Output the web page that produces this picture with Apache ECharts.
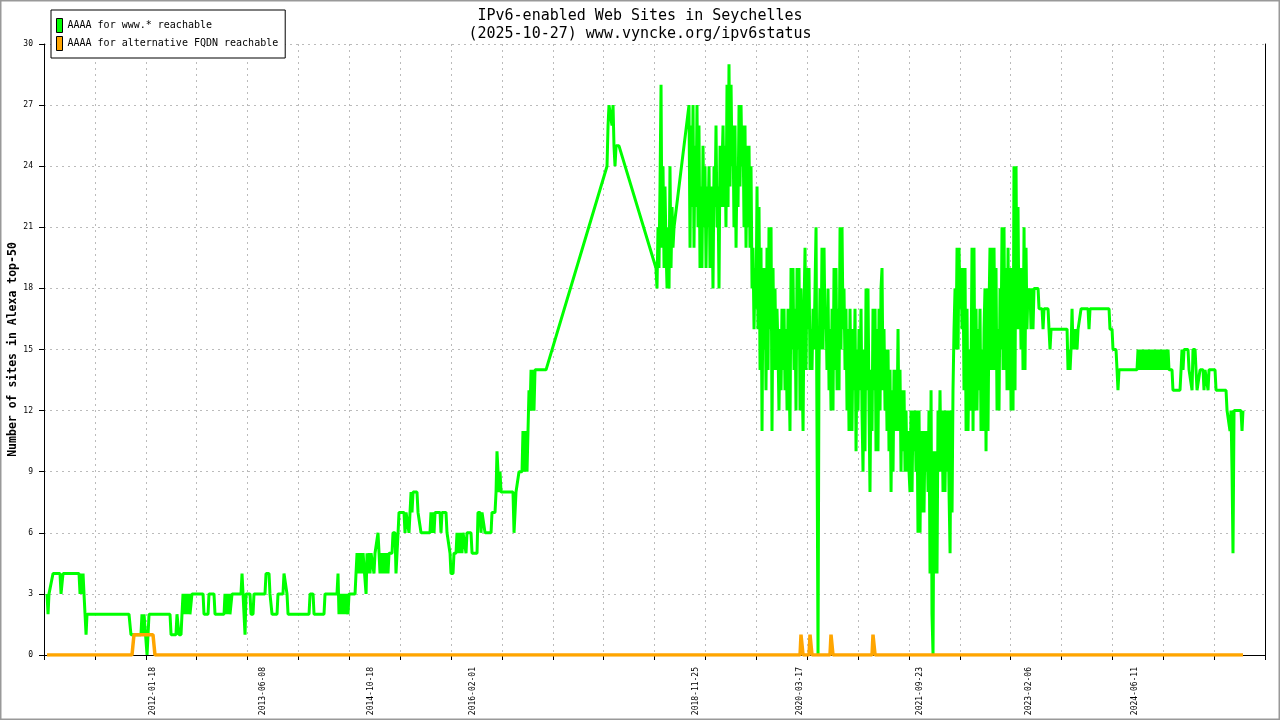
<!DOCTYPE html>
<html><head><meta charset="utf-8">
<script src="https://cdn.jsdelivr.net/npm/echarts@6/dist/echarts.min.js"></script>
<style>html,body{margin:0;padding:0;background:#fff}#c{width:1280px;height:720px}</style>
</head><body><div id="c"></div>
<script>
// ---- texts ----
const chartTitle = 'IPv6-enabled Web Sites in Seychelles';
const chartSubtitle = '(2025-10-27) www.vyncke.org/ipv6status';
const seriesNames = ['AAAA for www.* reachable', 'AAAA for alternative FQDN reachable'];
const yAxisName = 'Number of sites in Alexa top-50';
// ---- x axis: dates shown as tick labels, axis extent in decimal years ----
const xTickLabels = ['2012-01-18','2013-06-08','2014-10-18','2016-02-01','2018-11-25','2020-03-17','2021-09-23','2023-02-06','2024-06-11'];
const xRange = [2010.670, 2026.085];
const xMinorTickCount = 24;
const yRange = [0, 30];
const yStep = 3;

// ---- data: [decimal year, number of sites] ----
const www2010 = [[2010.708,3],[2010.721,2],[2010.733,3],[2010.758,3],[2010.784,4],[2010.872,4],[2010.885,3],[2010.897,3],[2010.910,4],[2011.112,4],[2011.125,3],[2011.138,4],[2011.150,3],[2011.163,4],[2011.175,3],[2011.188,2],[2011.201,1],[2011.213,2],[2011.743,2],[2011.768,1],[2011.894,1],[2011.907,2],[2011.920,1],[2011.933,2],[2011.958,2],[2011.971,0],[2011.983,0],[2011.996,2],[2012.261,2],[2012.274,1],[2012.336,1],[2012.349,2],[2012.362,2],[2012.374,1],[2012.400,1],[2012.412,2],[2012.425,3],[2012.438,2],[2012.450,3],[2012.463,2],[2012.475,3],[2012.488,2],[2012.501,3],[2012.513,2],[2012.538,3],[2012.678,3],[2012.690,2],[2012.741,2],[2012.753,3],[2012.816,3],[2012.829,2],[2012.943,2],[2012.955,3],[2012.968,2],[2012.981,3],[2012.993,2],[2013.006,3],[2013.018,2],[2013.044,3],[2013.157,3],[2013.170,4],[2013.195,4],[2013.208,1],[2013.220,3],[2013.271,3],[2013.283,2],[2013.309,2],[2013.321,3],[2013.460,3],[2013.473,4],[2013.511,4],[2013.523,3],[2013.549,2],[2013.612,2],[2013.624,3],[2013.687,3],[2013.700,4],[2013.725,4],[2013.738,3],[2013.751,2],[2014.016,2],[2014.029,3],[2014.067,3],[2014.079,2],[2014.205,2],[2014.218,3],[2014.369,3],[2014.382,4],[2014.394,2],[2014.407,3],[2014.420,2],[2014.432,3],[2014.445,2],[2014.458,3],[2014.470,2],[2014.483,3],[2014.508,2],[2014.521,3],[2014.597,3]];
const www2014 = [[2014.609,4],[2014.622,5],[2014.635,4],[2014.647,5],[2014.660,4],[2014.673,5],[2014.685,4],[2014.698,5],[2014.723,5],[2014.736,3],[2014.748,5],[2014.761,4],[2014.774,5],[2014.786,4],[2014.799,5],[2014.824,5],[2014.836,4],[2014.849,5],[2014.874,5],[2014.887,6],[2014.900,5],[2014.912,4],[2014.925,5],[2014.937,4],[2014.950,5],[2014.963,4],[2014.975,5],[2014.988,4],[2015.000,5],[2015.013,4],[2015.026,5],[2015.064,5],[2015.076,6],[2015.102,6],[2015.114,4],[2015.127,5],[2015.140,6],[2015.152,7],[2015.215,7],[2015.228,6],[2015.241,7],[2015.266,7],[2015.278,6],[2015.291,7],[2015.304,8],[2015.316,7],[2015.329,8],[2015.379,8],[2015.392,7],[2015.417,7],[2015.430,6],[2015.543,6],[2015.556,7],[2015.569,6],[2015.581,7],[2015.594,6],[2015.607,7],[2015.670,7],[2015.682,6],[2015.695,7],[2015.745,7],[2015.758,6],[2015.783,6],[2015.796,5],[2015.808,4],[2015.834,4],[2015.846,5],[2015.872,5],[2015.884,6],[2015.897,5],[2015.910,6],[2015.922,5],[2015.935,6],[2015.947,5],[2015.960,6],[2015.985,6],[2015.998,5],[2016.010,6],[2016.061,6],[2016.074,5],[2016.137,5],[2016.149,7],[2016.175,7],[2016.187,6],[2016.200,7],[2016.225,7],[2016.238,6],[2016.314,6],[2016.326,7],[2016.364,7],[2016.377,8],[2016.389,10],[2016.402,9],[2016.415,8],[2016.427,9],[2016.440,8],[2016.591,8],[2016.604,6],[2016.617,7],[2016.629,8],[2016.654,8],[2016.667,9],[2016.705,9],[2016.717,11],[2016.730,9],[2016.743,11],[2016.755,10],[2016.768,9],[2016.781,9],[2016.793,13],[2016.806,12],[2016.819,14],[2016.831,12],[2016.844,14],[2016.856,12],[2016.869,14],[2017.008,14],[2017.778,24],[2017.791,26],[2017.803,27],[2017.828,27],[2017.841,26],[2017.854,27],[2017.866,25],[2017.879,24],[2017.892,25],[2017.929,25],[2018.396,19]];
const www2018 = [[2018.409,18],[2018.422,21],[2018.434,19],[2018.447,23],[2018.460,28],[2018.472,20],[2018.485,24],[2018.498,19],[2018.510,23],[2018.523,20],[2018.536,18],[2018.548,21],[2018.561,18],[2018.573,24],[2018.586,19],[2018.599,22],[2018.611,20],[2018.624,21],[2018.637,21],[2018.813,27],[2018.826,20],[2018.838,26],[2018.851,22],[2018.864,27],[2018.876,20],[2018.889,25],[2018.902,22],[2018.914,27],[2018.927,21],[2018.939,26],[2018.952,19],[2018.965,23],[2018.977,19],[2018.990,25],[2019.003,21],[2019.015,24],[2019.028,19],[2019.040,23],[2019.053,21],[2019.066,24],[2019.078,19],[2019.091,23],[2019.104,22],[2019.116,18],[2019.129,24],[2019.142,22],[2019.154,26],[2019.167,21],[2019.179,23],[2019.192,18],[2019.205,25],[2019.217,22],[2019.230,24],[2019.243,26],[2019.255,22],[2019.268,25],[2019.280,21],[2019.293,28],[2019.306,22],[2019.318,29],[2019.331,23],[2019.344,28],[2019.356,24],[2019.369,26],[2019.381,21],[2019.394,26],[2019.407,20],[2019.419,24],[2019.432,22],[2019.445,27],[2019.457,23],[2019.470,27],[2019.482,24],[2019.495,26],[2019.508,21],[2019.520,26],[2019.533,20],[2019.546,25],[2019.558,21],[2019.571,25],[2019.583,20],[2019.596,24],[2019.609,18],[2019.621,20],[2019.634,16],[2019.647,19],[2019.659,17],[2019.672,23],[2019.684,16],[2019.697,22],[2019.710,14],[2019.722,20],[2019.735,11],[2019.748,19],[2019.760,15],[2019.773,19],[2019.785,13],[2019.798,20],[2019.811,14],[2019.823,21],[2019.836,16],[2019.849,21],[2019.861,11],[2019.874,19],[2019.886,14],[2019.899,18],[2019.912,14],[2019.924,17],[2019.937,15],[2019.949,12],[2019.962,16],[2019.975,13],[2019.987,17],[2020.000,14],[2020.013,17],[2020.025,13],[2020.038,16],[2020.051,12],[2020.063,17],[2020.076,14],[2020.088,11],[2020.101,19],[2020.114,15],[2020.126,19],[2020.139,14],[2020.152,17],[2020.164,12],[2020.177,19],[2020.189,15],[2020.202,19],[2020.215,12],[2020.227,18],[2020.240,14],[2020.253,11],[2020.265,17],[2020.278,20],[2020.290,14],[2020.303,19],[2020.316,16],[2020.328,19],[2020.341,14],[2020.354,16],[2020.366,14],[2020.379,17],[2020.391,15],[2020.404,18],[2020.417,21],[2020.429,11],[2020.442,0],[2020.454,14]];
const www2020 = [[2020.467,18],[2020.480,15],[2020.492,20],[2020.505,15],[2020.518,20],[2020.530,16],[2020.543,17],[2020.555,14],[2020.568,18],[2020.581,13],[2020.593,16],[2020.606,12],[2020.619,17],[2020.631,12],[2020.644,19],[2020.657,14],[2020.669,19],[2020.682,13],[2020.694,17],[2020.707,13],[2020.720,21],[2020.732,15],[2020.745,21],[2020.758,16],[2020.770,18],[2020.783,14],[2020.795,17],[2020.808,12],[2020.821,16],[2020.833,11],[2020.846,17],[2020.859,13],[2020.871,11],[2020.884,16],[2020.896,13],[2020.909,17],[2020.922,10],[2020.934,15],[2020.947,12],[2020.959,16],[2020.972,13],[2020.985,17],[2020.997,12],[2021.010,9],[2021.023,15],[2021.035,10],[2021.048,18],[2021.060,13],[2021.073,18],[2021.086,12],[2021.098,8],[2021.111,14],[2021.124,11],[2021.136,17],[2021.149,13],[2021.162,17],[2021.174,10],[2021.187,16],[2021.199,10],[2021.212,17],[2021.225,12],[2021.237,18],[2021.250,19],[2021.263,13],[2021.275,16],[2021.288,12],[2021.300,15],[2021.313,11],[2021.326,15],[2021.338,10],[2021.351,14],[2021.364,8],[2021.376,13],[2021.389,9],[2021.401,14],[2021.414,11],[2021.427,14],[2021.439,11],[2021.452,16],[2021.464,11],[2021.477,14],[2021.490,9],[2021.502,13],[2021.515,10],[2021.528,13],[2021.540,9],[2021.553,12],[2021.565,9],[2021.578,11],[2021.591,9],[2021.603,8],[2021.616,12],[2021.629,8],[2021.641,12],[2021.654,10],[2021.667,12],[2021.679,9],[2021.692,12],[2021.704,6],[2021.717,12],[2021.730,6],[2021.742,11],[2021.755,7],[2021.768,11],[2021.780,7],[2021.793,11],[2021.805,9],[2021.818,11],[2021.831,8],[2021.843,12],[2021.856,4],[2021.869,13],[2021.881,2],[2021.894,0],[2021.906,10],[2021.919,4],[2021.932,10],[2021.944,4],[2021.957,12],[2021.970,9],[2021.982,13],[2021.995,9],[2022.008,12],[2022.020,8],[2022.033,12],[2022.045,8],[2022.058,12],[2022.071,9],[2022.083,12],[2022.096,8],[2022.109,5],[2022.121,12],[2022.134,7],[2022.146,13]];
const www2022 = [[2022.159,16],[2022.172,18],[2022.184,15],[2022.197,20],[2022.210,15],[2022.222,20],[2022.235,17],[2022.248,19],[2022.260,16],[2022.273,19],[2022.285,13],[2022.298,19],[2022.311,11],[2022.323,17],[2022.336,11],[2022.348,15],[2022.361,12],[2022.374,14],[2022.386,20],[2022.399,11],[2022.411,20],[2022.424,12],[2022.437,17],[2022.449,12],[2022.462,16],[2022.475,13],[2022.487,17],[2022.500,11],[2022.512,15],[2022.525,11],[2022.538,16],[2022.550,18],[2022.563,10],[2022.575,18],[2022.588,11],[2022.601,17],[2022.613,20],[2022.626,14],[2022.639,20],[2022.651,14],[2022.664,20],[2022.677,14],[2022.689,19],[2022.702,12],[2022.714,16],[2022.727,12],[2022.740,18],[2022.752,15],[2022.765,21],[2022.778,14],[2022.790,21],[2022.803,14],[2022.815,19],[2022.828,13],[2022.841,20],[2022.853,13],[2022.866,19],[2022.879,12],[2022.891,19],[2022.904,12],[2022.916,24],[2022.929,13],[2022.942,24],[2022.954,16],[2022.967,22],[2022.979,16],[2022.992,19],[2023.005,15],[2023.017,19],[2023.030,14],[2023.043,21],[2023.055,14],[2023.068,20],[2023.080,16],[2023.093,18],[2023.106,17],[2023.118,18],[2023.131,16],[2023.144,18],[2023.156,16],[2023.169,18],[2023.220,18],[2023.232,17],[2023.270,17],[2023.283,16],[2023.295,17],[2023.346,17],[2023.358,16],[2023.371,15],[2023.384,16],[2023.586,16],[2023.598,14],[2023.611,15],[2023.624,14],[2023.636,15],[2023.649,17],[2023.661,15],[2023.674,16],[2023.687,15],[2023.699,16],[2023.712,15],[2023.725,16],[2023.750,16],[2023.763,17],[2023.851,17],[2023.863,16],[2023.876,17],[2024.116,17],[2024.128,16],[2024.154,16],[2024.166,15],[2024.204,15],[2024.217,14],[2024.229,13],[2024.242,14],[2024.469,14],[2024.482,15],[2024.494,14],[2024.507,15],[2024.520,14],[2024.532,15],[2024.545,14],[2024.558,15],[2024.570,14],[2024.583,15],[2024.595,14],[2024.608,15],[2024.621,14],[2024.633,15],[2024.646,14],[2024.659,15],[2024.671,14],[2024.684,15],[2024.697,14],[2024.709,15],[2024.722,14],[2024.735,15],[2024.747,14],[2024.760,15],[2024.772,14],[2024.785,15],[2024.798,14],[2024.810,15],[2024.823,14],[2024.836,15],[2024.848,14],[2024.861,15],[2024.873,14],[2024.911,14],[2024.923,13],[2025.012,13],[2025.025,14],[2025.037,15],[2025.050,14],[2025.063,15],[2025.113,15],[2025.126,14],[2025.151,14],[2025.164,13],[2025.176,15],[2025.202,15],[2025.214,14],[2025.227,13],[2025.252,13],[2025.265,14],[2025.303,14],[2025.315,13],[2025.328,14],[2025.353,14],[2025.366,13],[2025.378,14],[2025.454,14],[2025.467,13],[2025.593,13],[2025.606,12],[2025.631,12],[2025.643,11],[2025.656,12],[2025.669,9],[2025.681,5],[2025.694,12],[2025.782,12],[2025.795,11],[2025.807,12]];
const altFqdn = [[2010.708,0],[2011.781,0],[2011.806,1],[2012.046,1],[2012.071,0],[2020.215,0],[2020.227,1],[2020.240,1],[2020.253,0],[2020.328,0],[2020.341,1],[2020.354,1],[2020.366,0],[2020.593,0],[2020.606,1],[2020.619,1],[2020.631,0],[2021.124,0],[2021.136,1],[2021.149,1],[2021.162,0],[2025.807,0]];

const wwwData = www2010.concat(www2014, www2018, www2020, www2022);

function dateToYear(s) {
  const [y, m, d] = s.split('-').map(Number);
  const start = Date.UTC(y, 0, 1), end = Date.UTC(y + 1, 0, 1);
  return y + (Date.UTC(y, m - 1, d) - start) / (end - start);
}
const labelValues = xTickLabels.map(dateToYear);
const tickStep = (xRange[1] - xRange[0]) / xMinorTickCount;
const tickValues = [];
for (let i = 0; i <= xMinorTickCount; i++) tickValues.push(xRange[0] + i * tickStep);

const MONO = 'DejaVu Sans Mono';
const chart = echarts.init(document.getElementById('c'), null, {renderer: 'canvas'});
chart.setOption({
  animation: false,
  backgroundColor: '#fff',
  title: {
    text: chartTitle + '\n' + chartSubtitle,
    left: 'center', top: 2,
    textStyle: {fontFamily: MONO, fontSize: 15, fontWeight: 'normal', color: '#000', lineHeight: 18}
  },
  legend: {
    orient: 'vertical', left: 51, top: 10,
    data: seriesNames,
    icon: 'rect', itemWidth: 6, itemHeight: 14, itemGap: 3,
    padding: [8, 7, 7, 5],
    borderColor: '#000', borderWidth: 1, backgroundColor: '#fff',
    itemStyle: {borderColor: '#000', borderWidth: 1},
    textStyle: {fontFamily: MONO, fontSize: 10, color: '#000', padding: [0, 0, 0, 0]},
    selectedMode: false
  },
  grid: {left: 44, right: 15, top: 44, bottom: 65, containLabel: false, outerBoundsMode: 'none'},
  xAxis: {
    type: 'value', min: xRange[0], max: xRange[1],
    axisLine: {show: true, lineStyle: {color: '#000', width: 1}},
    axisTick: {show: true, customValues: tickValues, length: 5, lineStyle: {color: '#000'}},
    axisLabel: {
      customValues: labelValues, rotate: 90, margin: 12,
      fontFamily: MONO, fontSize: 8, color: '#000',
      formatter: function (v) {
        let best = 0;
        labelValues.forEach((lv, i) => { if (Math.abs(lv - v) < Math.abs(labelValues[best] - v)) best = i; });
        return xTickLabels[best];
      }
    },
    splitLine: {show: true, lineStyle: {color: '#bbb', type: [2, 4], width: 1}}
  },
  yAxis: [{
    type: 'value', min: yRange[0], max: yRange[1], interval: yStep,
    name: yAxisName, nameLocation: 'middle', nameGap: 25, nameMoveOverlap: false,
    nameTextStyle: {fontFamily: MONO, fontSize: 11.5, fontWeight: 'bold', color: '#000'},
    axisLine: {show: true, lineStyle: {color: '#000'}},
    axisTick: {show: true, length: 5, lineStyle: {color: '#000'}},
    axisLabel: {fontFamily: MONO, fontSize: 8, color: '#000', margin: 11},
    splitLine: {show: true, lineStyle: {color: '#bbb', type: [2, 4], width: 1}}
  }, {
    type: 'value', min: yRange[0], max: yRange[1], position: 'right',
    axisLine: {show: true, lineStyle: {color: '#000'}},
    axisTick: {show: false}, axisLabel: {show: false}, splitLine: {show: false}
  }],
  graphic: [{
    type: 'rect', silent: true, z: 100,
    shape: {x: 0.5, y: 0.5, width: 1279, height: 719},
    style: {fill: 'none', stroke: '#999', lineWidth: 2}
  }],
  series: [{
    name: seriesNames[0], type: 'line', data: wwwData,
    showSymbol: false, symbol: 'none', color: '#00ff00',
    lineStyle: {color: '#00ff00', width: 3}, z: 2
  }, {
    name: seriesNames[1], type: 'line', data: altFqdn,
    showSymbol: false, symbol: 'none', color: '#ffa500',
    lineStyle: {color: '#ffa500', width: 3.5}, z: 3
  }]
});
</script>
</body></html>
